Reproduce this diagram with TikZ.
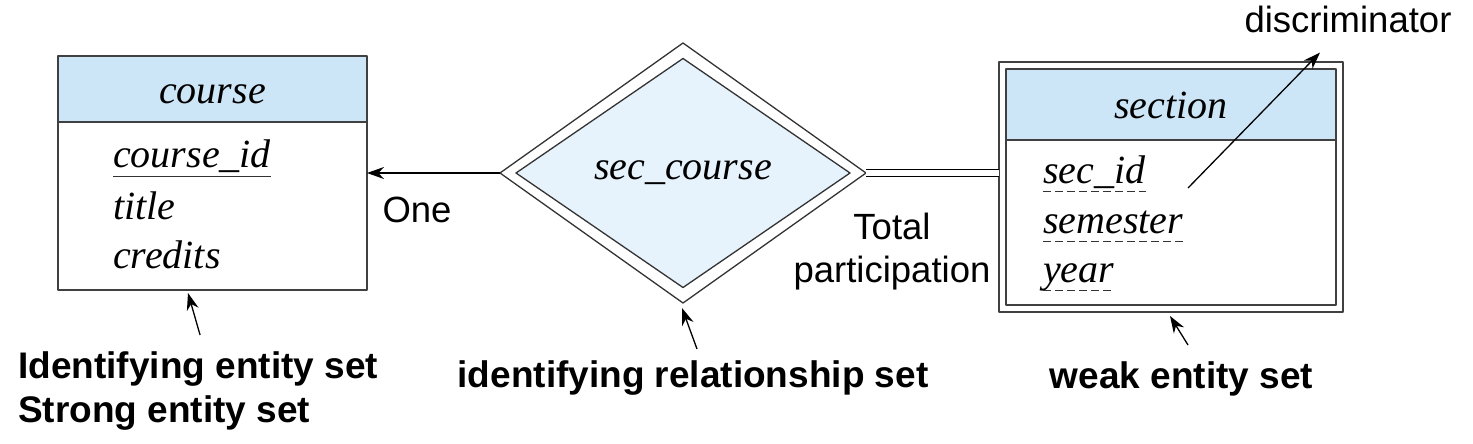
\documentclass[tikz,border=0pt]{standalone}
\usepackage{fontspec}
\setmainfont{Liberation Sans}
\newfontfamily\erfont{Liberation Serif}
\usetikzlibrary{positioning,shapes.geometric,arrows.meta}
\definecolor{hdrblue}{RGB}{204,229,247}
\definecolor{relblue}{RGB}{230,243,252}
\begin{document}
\begin{tikzpicture}[x=1pt,y=-1pt,>={Stealth[length=17pt,width=12pt]}, line join=round,
	box/.style={draw=black!75,line width=1.5pt,inner sep=0pt,outer sep=0pt},
	hdr/.style={box,fill=hdrblue,font=\fontsize{40}{46}\erfont\itshape},
	attr/.style={anchor=base west,inner sep=0pt,font=\fontsize{40}{46}\erfont\itshape},
	rel/.style={diamond,draw=black!80,line width=1.3pt,inner sep=0pt,outer sep=0pt},
	lbl/.style={inner sep=0pt,font=\fontsize{36.5}{43}\selectfont},
	blbl/.style={inner sep=0pt,font=\fontsize{37}{44}\selectfont\bfseries}]
	\useasboundingbox (0,0) rectangle (1473,444);
	% course (strong entity set)
	\node[hdr,minimum width=309pt,minimum height=66pt,text height=28pt,text depth=0pt] (course) at (212.5,89) {course};
	\node[box,minimum width=309pt,minimum height=168pt,below=0pt of course] (coursebody) {};
	\node[attr] (cid) at (113,167) {course\_id};
	\node[attr] (title) at (113,219) {title};
	\node[attr] (cred) at (113,268) {credits};
	\draw[line width=1pt,black!80] ([yshift=-9pt]cid.base west) -- ([yshift=-9pt]cid.base east);
	% section (weak entity set)
	\node[box,minimum width=344pt,minimum height=250pt] (weak) at (1171,187) {};
	\node[hdr,minimum width=330pt,minimum height=71pt,text height=27pt,text depth=0pt] (section) at (1171,104.5) {section};
	\node[box,minimum width=330pt,minimum height=165pt,below=0pt of section] (sectionbody) {};
	\node[attr] (sid) at (1043,183) {sec\_id};
	\node[attr] (sem) at (1043,233) {semester};
	\node[attr] (yr) at (1043,282) {year};
	\foreach \a in {sid,sem,yr}
		\draw[line width=1pt,black!80,dash pattern=on 8pt off 4pt] ([yshift=-8pt]\a.base west) -- ([yshift=-8pt]\a.base east);
	% sec_course
	\node[rel,minimum width=366pt,minimum height=260pt] (secout) at (683,173) {};
	\node[rel,fill=relblue,minimum width=334pt,minimum height=229pt,font=\fontsize{40}{46}\erfont\itshape] (sec) at (683,173) {sec\_course};
	\draw[->,line width=1.3pt] (secout.west) -- (secout.west -| coursebody.east);
	\draw[double,double distance=6pt,line width=1.4pt] (secout.east) -- (secout.east -| weak.west);
	% labels
	\node[lbl,anchor=base] (one) at (417,222) {One};
	\node[lbl,align=center] (total) at (892,252) {Total\\participation};
	\node[lbl,anchor=base] (disc) at (1348,33) {discriminator};
	\coordinate (sidend) at (1188,188);
	\draw[->,line width=1.3pt] (sidend) -- ([xshift=-28pt,yshift=-19pt]disc.south);
	\node[blbl,align=left,anchor=north west] (strong) at (18,351) {Identifying entity set\\Strong entity set};
	\node[blbl,anchor=base] (idrel) at (693,387) {identifying relationship set};
	\node[blbl,anchor=base] (weaklbl) at (1181.5,388) {weak entity set};
	\draw[->,line width=1.3pt] ([xshift=2pt,yshift=16pt]strong.north) -- ([xshift=-24.5pt,yshift=-3pt]coursebody.south);
	\draw[->,line width=1.3pt] ([xshift=4pt,yshift=11pt]idrel.north) -- ([xshift=-1pt,yshift=-5pt]secout.south);
	\draw[->,line width=1.3pt] ([xshift=6.5pt,yshift=16pt]weaklbl.north) -- ([xshift=-1pt,yshift=-4pt]weak.south);
\end{tikzpicture}
\end{document}
